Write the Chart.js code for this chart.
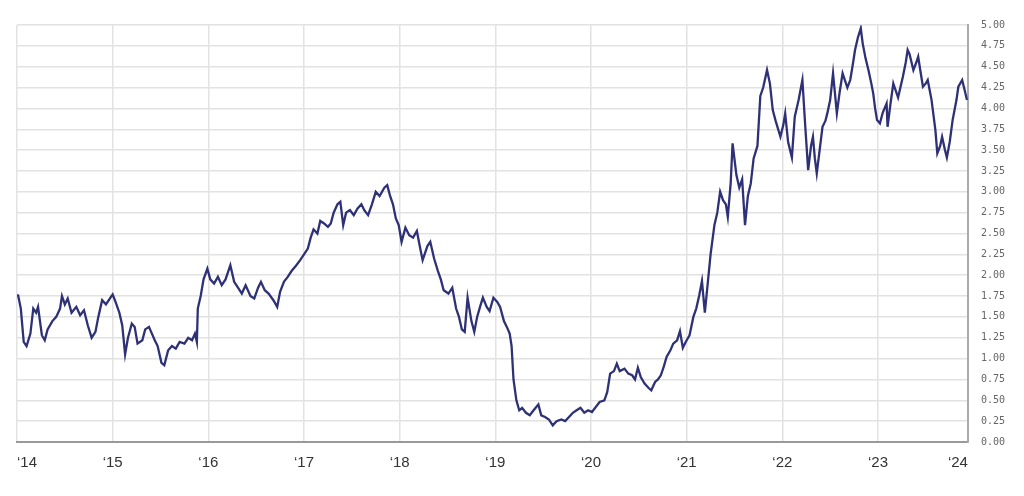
<!DOCTYPE html>
<html>
<head>
<meta charset="utf-8">
<script src="https://cdn.jsdelivr.net/npm/chart.js@4/dist/chart.umd.min.js"></script>
<style>
  html, body { margin: 0; padding: 0; background: #fff; }
  #wrap { width: 1024px; height: 496px; }
</style>
</head>
<body>
<div id="wrap"><canvas id="myChart" width="1024" height="496"></canvas></div>
<script>
// dates as decimal years
const years = [
  2014.01, 2014.04, 2014.07, 2014.10, 2014.14, 2014.17, 2014.20, 2014.22, 2014.26, 2014.29,
  2014.32, 2014.37, 2014.41, 2014.45, 2014.47, 2014.50, 2014.53, 2014.57, 2014.62, 2014.66,
  2014.70, 2014.74, 2014.78, 2014.82, 2014.85, 2014.89, 2014.93, 2014.97, 2015.00, 2015.03,
  2015.07, 2015.10, 2015.13, 2015.16, 2015.20, 2015.23, 2015.26, 2015.31, 2015.34, 2015.38,
  2015.41, 2015.44, 2015.47, 2015.51, 2015.54, 2015.58, 2015.62, 2015.66, 2015.70, 2015.75,
  2015.79, 2015.83, 2015.86, 2015.88, 2015.89, 2015.92, 2015.95, 2015.99, 2016.02, 2016.06,
  2016.10, 2016.14, 2016.18, 2016.23, 2016.27, 2016.31, 2016.35, 2016.39, 2016.44, 2016.48,
  2016.52, 2016.55, 2016.59, 2016.63, 2016.68, 2016.72, 2016.75, 2016.79, 2016.83, 2016.87,
  2016.92, 2016.96, 2017.00, 2017.04, 2017.07, 2017.10, 2017.14, 2017.17, 2017.21, 2017.25,
  2017.28, 2017.31, 2017.35, 2017.38, 2017.41, 2017.44, 2017.48, 2017.52, 2017.56, 2017.60,
  2017.63, 2017.67, 2017.71, 2017.75, 2017.79, 2017.84, 2017.87, 2017.90, 2017.93, 2017.96,
  2017.99, 2018.02, 2018.06, 2018.10, 2018.14, 2018.18, 2018.21, 2018.24, 2018.29, 2018.32,
  2018.36, 2018.40, 2018.43, 2018.46, 2018.51, 2018.55, 2018.59, 2018.62, 2018.65, 2018.68,
  2018.71, 2018.75, 2018.78, 2018.81, 2018.84, 2018.87, 2018.91, 2018.94, 2018.98, 2019.02,
  2019.05, 2019.09, 2019.12, 2019.15, 2019.17, 2019.19, 2019.22, 2019.25, 2019.28, 2019.32,
  2019.36, 2019.40, 2019.45, 2019.48, 2019.52, 2019.56, 2019.60, 2019.64, 2019.69, 2019.73,
  2019.77, 2019.81, 2019.85, 2019.89, 2019.93, 2019.97, 2020.01, 2020.05, 2020.09, 2020.14,
  2020.17, 2020.20, 2020.24, 2020.27, 2020.30, 2020.35, 2020.39, 2020.43, 2020.46, 2020.49,
  2020.52, 2020.56, 2020.60, 2020.63, 2020.67, 2020.70, 2020.73, 2020.76, 2020.79, 2020.83,
  2020.86, 2020.90, 2020.93, 2020.96, 2020.99, 2021.03, 2021.07, 2021.10, 2021.13, 2021.16,
  2021.19, 2021.22, 2021.25, 2021.29, 2021.32, 2021.35, 2021.38, 2021.41, 2021.43, 2021.46,
  2021.48, 2021.52, 2021.55, 2021.58, 2021.61, 2021.64, 2021.67, 2021.70, 2021.74, 2021.77,
  2021.80, 2021.84, 2021.87, 2021.90, 2021.93, 2021.98, 2022.01, 2022.03, 2022.06, 2022.10,
  2022.13, 2022.17, 2022.21, 2022.24, 2022.27, 2022.30, 2022.32, 2022.34, 2022.36, 2022.39,
  2022.42, 2022.45, 2022.47, 2022.50, 2022.53, 2022.57, 2022.60, 2022.63, 2022.68, 2022.71,
  2022.74, 2022.76, 2022.79, 2022.82, 2022.84, 2022.87, 2022.90, 2022.93, 2022.95, 2022.97,
  2022.99, 2023.02, 2023.05, 2023.09, 2023.10, 2023.13, 2023.16, 2023.21, 2023.26, 2023.29,
  2023.31, 2023.33, 2023.37, 2023.40, 2023.42, 2023.45, 2023.47, 2023.50, 2023.52, 2023.56,
  2023.60, 2023.62, 2023.65, 2023.67, 2023.70, 2023.72, 2023.75, 2023.78, 2023.82, 2023.84,
  2023.88, 2023.91, 2023.93
];

// yield values (%)
const yields = [
  1.77, 1.60, 1.20, 1.15, 1.30, 1.60, 1.55, 1.62, 1.28, 1.22,
  1.35, 1.45, 1.50, 1.60, 1.75, 1.65, 1.72, 1.55, 1.62, 1.52,
  1.58, 1.40, 1.25, 1.32, 1.50, 1.70, 1.65, 1.72, 1.77, 1.68,
  1.55, 1.40, 1.05, 1.25, 1.42, 1.38, 1.18, 1.22, 1.35, 1.38,
  1.30, 1.22, 1.15, 0.95, 0.92, 1.10, 1.15, 1.12, 1.20, 1.18,
  1.25, 1.22, 1.30, 1.20, 1.60, 1.75, 1.95, 2.08, 1.95, 1.90,
  1.98, 1.88, 1.95, 2.12, 1.92, 1.85, 1.78, 1.88, 1.75, 1.72,
  1.85, 1.92, 1.82, 1.78, 1.70, 1.62, 1.80, 1.92, 1.98, 2.05,
  2.12, 2.18, 2.25, 2.32, 2.45, 2.55, 2.50, 2.65, 2.62, 2.58,
  2.62, 2.75, 2.85, 2.88, 2.60, 2.75, 2.78, 2.72, 2.80, 2.85,
  2.78, 2.72, 2.85, 3.00, 2.95, 3.05, 3.08, 2.95, 2.85, 2.68,
  2.60, 2.40, 2.57, 2.48, 2.45, 2.53, 2.35, 2.18, 2.35, 2.40,
  2.20, 2.05, 1.95, 1.82, 1.78, 1.85, 1.60, 1.50, 1.35, 1.32,
  1.73, 1.45, 1.32, 1.50, 1.62, 1.73, 1.62, 1.57, 1.73, 1.68,
  1.62, 1.45, 1.38, 1.30, 1.15, 0.75, 0.50, 0.38, 0.41, 0.35,
  0.32, 0.38, 0.45, 0.32, 0.30, 0.27, 0.20, 0.25, 0.27, 0.25,
  0.30, 0.35, 0.38, 0.41, 0.35, 0.38, 0.36, 0.42, 0.48, 0.50,
  0.60, 0.82, 0.85, 0.94, 0.85, 0.88, 0.82, 0.80, 0.75, 0.89,
  0.78, 0.70, 0.65, 0.62, 0.72, 0.75, 0.80, 0.90, 1.02, 1.10,
  1.18, 1.22, 1.33, 1.13, 1.20, 1.28, 1.50, 1.60, 1.75, 1.93,
  1.55, 1.90, 2.25, 2.60, 2.75, 3.00, 2.90, 2.85, 2.70, 3.10,
  3.58, 3.20, 3.05, 3.15, 2.60, 2.95, 3.10, 3.40, 3.55, 4.15,
  4.25, 4.46, 4.30, 3.98, 3.85, 3.66, 3.80, 3.94, 3.60, 3.41,
  3.90, 4.10, 4.34, 3.78, 3.26, 3.55, 3.66, 3.40, 3.22, 3.50,
  3.78, 3.85, 3.94, 4.10, 4.42, 3.94, 4.20, 4.42, 4.25, 4.34,
  4.55, 4.70, 4.85, 4.96, 4.78, 4.60, 4.46, 4.30, 4.18, 4.00,
  3.86, 3.82, 3.95, 4.06, 3.78, 4.05, 4.30, 4.13, 4.38, 4.55,
  4.70, 4.65, 4.46, 4.55, 4.62, 4.40, 4.26, 4.30, 4.34, 4.10,
  3.74, 3.46, 3.55, 3.66, 3.50, 3.41, 3.60, 3.86, 4.10, 4.26,
  4.34, 4.20, 4.10
];

// x axis: range and year ticks (last tick sits on the right edge, labelled '24)
const xStart = 2014;
const xEnd = 2023.94;
const xTicks = [2014, 2015, 2016, 2017, 2018, 2019, 2020, 2021, 2022, 2023, xEnd];
const yTicksMax = 5;
const yStep = 0.25;

const points = years.map((x, i) => ({ x, y: yields[i] }));

let ctx = document.getElementById('myChart').getContext('2d');

const chart = new Chart(ctx, {
  type: 'line',
  data: {
    datasets: [
      {
        label: 'Yield',
        data: points,
        borderColor: '#2e3175',
        borderWidth: 2.3,
        pointRadius: 0,
        tension: 0,
        fill: false,
      },
    ],
  },
  options: {
    responsive: false,
    animation: false,
    layout: { padding: { left: 17, right: 6, top: 25, bottom: 12 } },
    plugins: {
      legend: { display: false },
      tooltip: { enabled: false },
    },
    scales: {
      x: {
        type: 'linear',
        min: xStart,
        max: xEnd,
        afterBuildTicks: (scale) => {
          scale.ticks = xTicks.map((value) => ({ value }));
        },
        grid: { color: '#e2e2e2', lineWidth: 1.5, drawTicks: false },
        border: { color: '#9a9a9a', width: 2 },
        ticks: {
          align: 'inner',
          padding: 12,
          color: '#333',
          font: { family: 'Liberation Sans, Arial, sans-serif', size: 15 },
          maxRotation: 0,
          autoSkip: false,
          callback: (v) => '\u2018' + String(Math.round(v)).slice(2),
        },
      },
      y: {
        position: 'right',
        min: 0,
        max: yTicksMax,
        grid: { color: '#e2e2e2', lineWidth: 1.5, drawTicks: false },
        border: { color: '#aaaaaa', width: 2 },
        ticks: {
          stepSize: yStep,
          padding: 13,
          color: '#666',
          font: { family: 'DejaVu Sans Mono, monospace', size: 10 },
          callback: (v) => v.toFixed(2),
        },
      },
    },
  },
});
</script>
</body>
</html>
